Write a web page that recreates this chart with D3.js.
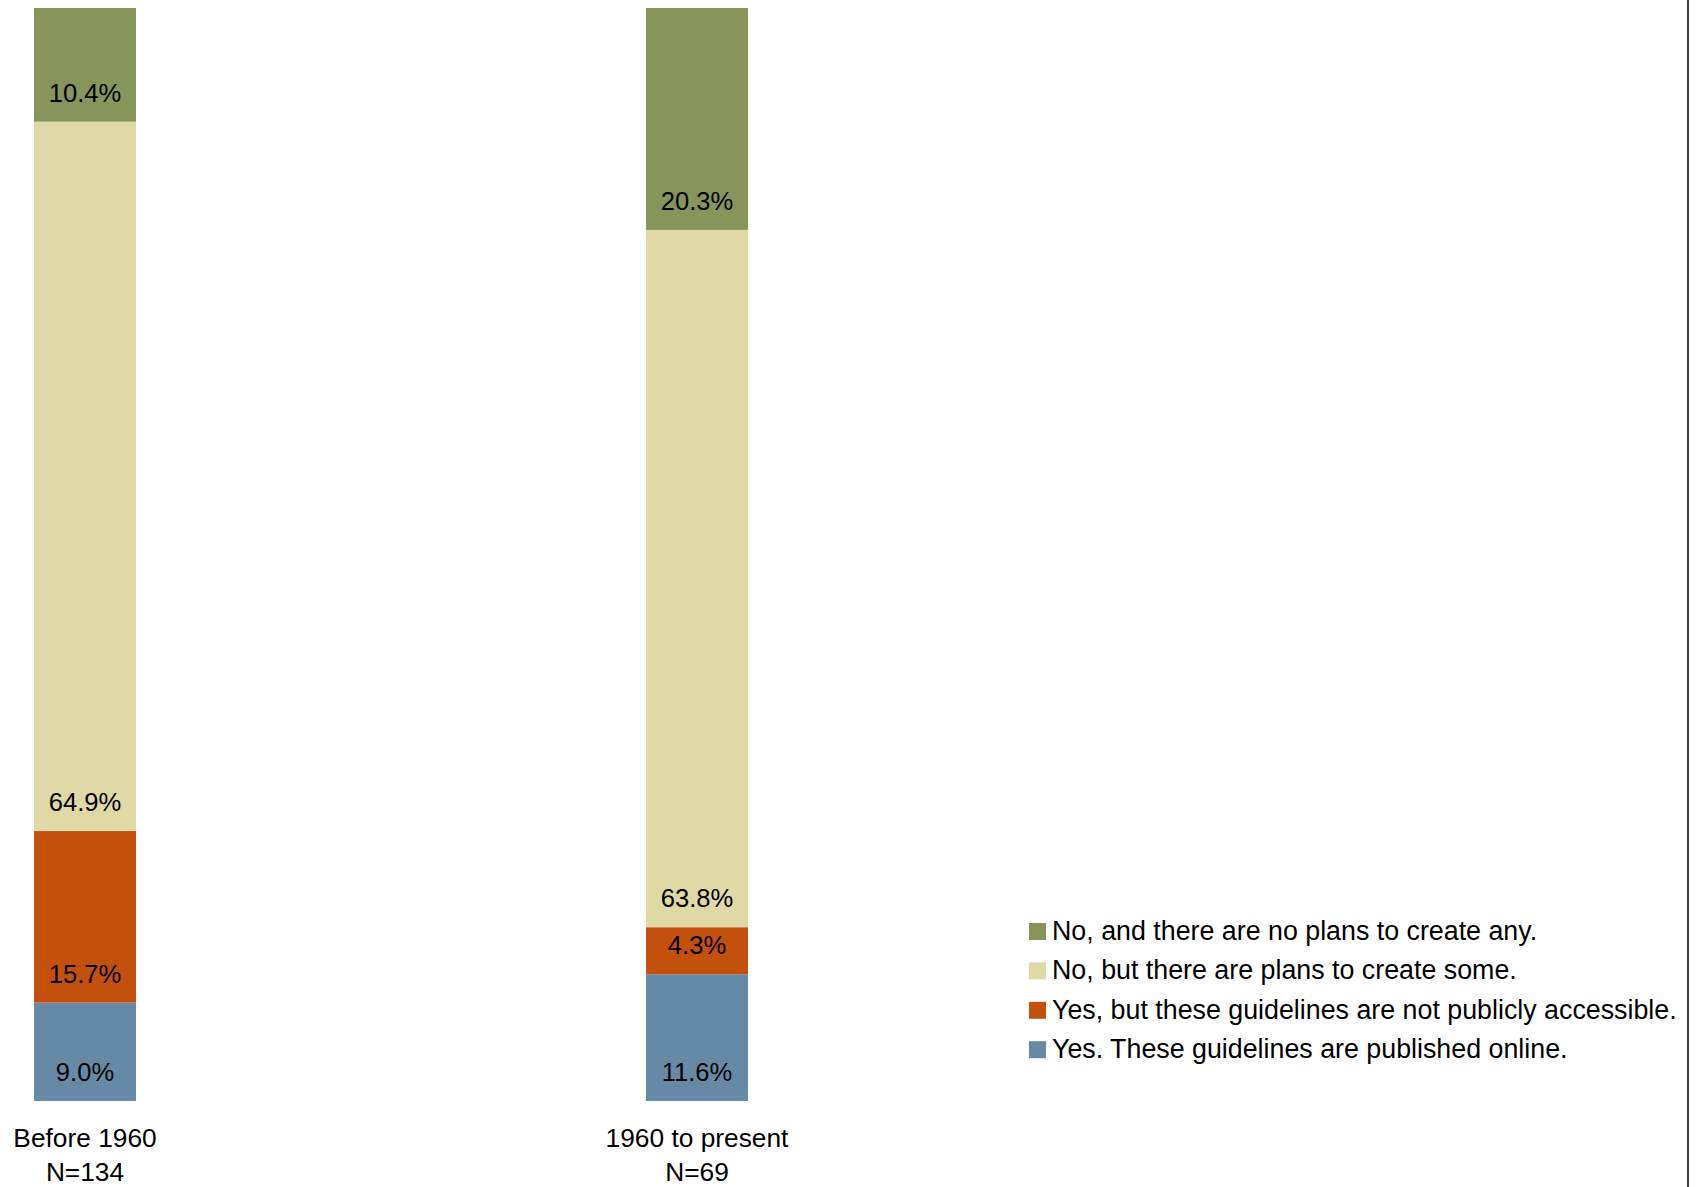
<!DOCTYPE html>
<html>
<head>
<meta charset="utf-8">
<script src="https://cdn.jsdelivr.net/npm/d3@7"></script>
<style>
  html, body { margin: 0; padding: 0; background: #fff; }
  svg { display: block; font-family: "Liberation Sans", Arial, sans-serif; }
</style>
</head>
<body>
<svg id="chart" width="1703" height="1187"></svg>
<script>
// ---- data ----
const categories = ["Before 1960", "1960 to present"];
const sampleSizes = ["N=134", "N=69"];
const seriesNames = [
  "Yes. These guidelines are published online.",
  "Yes, but these guidelines are not publicly accessible.",
  "No, but there are plans to create some.",
  "No, and there are no plans to create any."
];
const publishedOnline = [9.0, 11.6];
const notPublic = [15.7, 4.3];
const plansToCreate = [64.9, 63.8];
const noPlans = [10.4, 20.3];
const seriesColors = ["#668aa6", "#c4500e", "#dfd9a6", "#87955a"];

// ---- build ----
const seriesValues = [publishedOnline, notPublic, plansToCreate, noPlans];
const rows = categories.map((c, i) => {
  const r = { cat: c };
  seriesNames.forEach((s, k) => r[s] = seriesValues[k][i]);
  return r;
});
const stack = d3.stack().keys(seriesNames)(rows);

const svg = d3.select("#chart");
const x = d3.scalePoint().domain(categories).range([85, 697]);
const barW = 102;
const y = d3.scaleLinear().domain([0, 100]).range([1101, 8]);
const color = d3.scaleOrdinal().domain(seriesNames).range(seriesColors);

const layers = svg.append("g").selectAll("g").data(stack).join("g")
  .attr("fill", d => color(d.key));

layers.selectAll("rect").data(d => d).join("rect")
  .attr("x", d => x(d.data.cat) - barW / 2)
  .attr("width", barW)
  .attr("y", d => y(d[1]))
  .attr("height", d => y(d[0]) - y(d[1]));

layers.selectAll("text").data(d => d.map(v => ({ v, key: d.key }))).join("text")
  .attr("x", d => x(d.v.data.cat))
  .attr("y", d => y(d.v[0]) - 20)
  .attr("text-anchor", "middle")
  .attr("font-size", 25.6)
  .attr("fill", "#000")
  .text(d => d.v.data[d.key].toFixed(1) + "%");

// category axis labels
const axisG = svg.append("g");
axisG.selectAll("text.cat").data(categories).join("text")
  .attr("class", "cat")
  .attr("x", d => x(d))
  .attr("y", 1147)
  .attr("text-anchor", "middle")
  .attr("font-size", 26.3)
  .text(d => d);
axisG.selectAll("text.n").data(categories).join("text")
  .attr("class", "n")
  .attr("x", d => x(d))
  .attr("y", 1181)
  .attr("text-anchor", "middle")
  .attr("font-size", 26.3)
  .text((d, i) => sampleSizes[i]);

// legend (top to bottom: reverse of stack order)
const legendItems = seriesNames.slice().reverse();
const legend = svg.append("g");
const li = legend.selectAll("g").data(legendItems).join("g")
  .attr("transform", (d, i) => `translate(1029, ${940 + i * 39.4})`);
li.append("rect")
  .attr("x", 0).attr("y", -17).attr("width", 17).attr("height", 17)
  .attr("fill", d => color(d));
li.append("text")
  .attr("x", 23)
  .attr("font-size", 26.8)
  .attr("fill", "#000")
  .text(d => d);

// right border line
svg.append("line")
  .attr("x1", 1688).attr("x2", 1688)
  .attr("y1", 0).attr("y2", 1187)
  .attr("stroke", "#3a3a3a").attr("stroke-width", 2);
</script>
</body>
</html>
